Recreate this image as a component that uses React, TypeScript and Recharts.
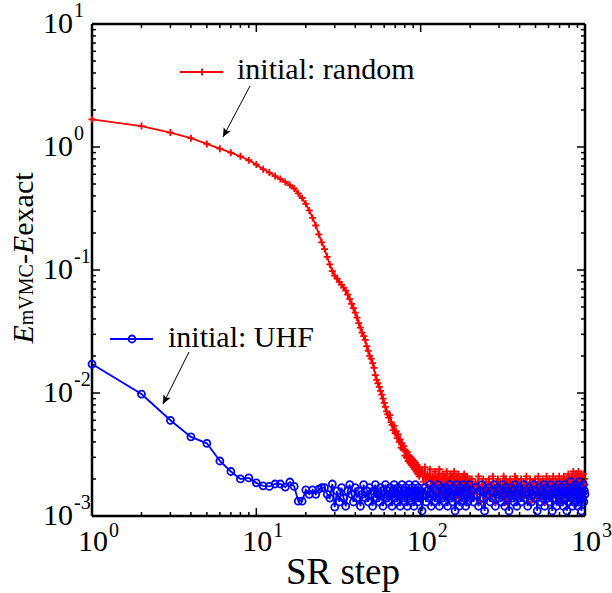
import { LineChart, Line, XAxis, YAxis } from 'recharts';

const SERIF = '"Liberation Serif", "Times New Roman", serif';

// SR steps that are drawn (every step up to 100, sampled after that)
const steps = [
  1, 2, 3, 4, 5, 6, 7, 8, 9, 10,
  11, 12, 13, 14, 15, 16, 17, 18, 19, 20,
  21, 22, 23, 24, 25, 26, 27, 28, 29, 30,
  31, 32, 33, 34, 35, 36, 37, 38, 39, 40,
  41, 42, 43, 44, 45, 46, 47, 48, 49, 50,
  51, 52, 53, 54, 55, 56, 57, 58, 59, 60,
  61, 62, 63, 64, 65, 66, 67, 68, 69, 70,
  71, 72, 73, 74, 75, 76, 77, 78, 79, 80,
  81, 82, 83, 84, 85, 86, 87, 88, 89, 90,
  91, 92, 93, 94, 95, 96, 97, 98, 99, 100,
  102, 104, 106, 108, 110, 112, 114, 116, 118, 120,
  122, 124, 126, 128, 130, 132, 134, 136, 138, 140,
  142, 144, 146, 148, 150, 152, 154, 156, 158, 160,
  162, 164, 166, 168, 170, 172, 174, 176, 178, 180,
  182, 184, 186, 188, 190, 192, 194, 196, 198, 200,
  205, 210, 215, 220, 225, 230, 235, 240, 245, 250,
  255, 260, 265, 270, 275, 280, 285, 290, 295, 300,
  305, 310, 315, 320, 325, 330, 335, 340, 345, 350,
  355, 360, 365, 370, 375, 380, 385, 390, 395, 400,
  408, 416, 424, 432, 440, 448, 456, 464, 472, 480,
  488, 496, 504, 512, 520, 528, 536, 544, 552, 560,
  568, 576, 584, 592, 600, 608, 616, 624, 632, 640,
  648, 656, 664, 672, 680, 688, 696, 704, 712, 720,
  728, 736, 744, 752, 760, 768, 776, 784, 792, 800,
  808, 816, 824, 832, 840, 848, 856, 864, 872, 880,
  888, 896, 904, 912, 920, 928, 936, 944, 952, 960,
  968, 976, 984, 992, 1000,
];

// initial: random
const randomErr = [
  1.68, 1.48, 1.31, 1.18, 1.06, 0.97, 0.9, 0.84, 0.78, 0.72,
  0.66, 0.62, 0.58, 0.55, 0.52, 0.49, 0.46, 0.42, 0.385, 0.345,
  0.305, 0.265, 0.23, 0.195, 0.168, 0.148, 0.128, 0.111, 0.098, 0.09,
  0.085, 0.08, 0.076, 0.072, 0.068, 0.063, 0.058, 0.053, 0.049, 0.045,
  0.041, 0.037, 0.034, 0.031, 0.029, 0.027, 0.024, 0.022, 0.02, 0.019,
  0.0175, 0.016, 0.014, 0.0128, 0.012, 0.0112, 0.0104, 0.0097, 0.009, 0.0083,
  0.0077, 0.0071, 0.0067, 0.0063, 0.0066, 0.0058, 0.0055, 0.005, 0.0054, 0.0047,
  0.0049, 0.0043, 0.0046, 0.004, 0.0042, 0.0036, 0.0039, 0.0035, 0.0037, 0.0031,
  0.0034, 0.003, 0.0033, 0.0028, 0.0031, 0.0027, 0.003, 0.0026, 0.0029, 0.0025,
  0.0028, 0.0024, 0.0027, 0.0023, 0.0026, 0.0022, 0.0025, 0.0021, 0.0024, 0.0022,
  0.0023, 0.0019, 0.0025, 0.0018, 0.0022, 0.002, 0.0024, 0.0017, 0.0021, 0.0019,
  0.0023, 0.0016, 0.0021, 0.0019, 0.0024, 0.0017, 0.002, 0.0022, 0.0015, 0.0021,
  0.0018, 0.0023, 0.0016, 0.002, 0.0019, 0.0022, 0.0015, 0.0021, 0.0017, 0.0023,
  0.0019, 0.0014, 0.0021, 0.0018, 0.0022, 0.0016, 0.002, 0.0019, 0.0014, 0.0021,
  0.0017, 0.0022, 0.0015, 0.002, 0.0018, 0.0021, 0.0014, 0.0019, 0.002, 0.0016,
  0.002, 0.0015, 0.0019, 0.0017, 0.0021, 0.0013, 0.0018, 0.002, 0.0016, 0.0019,
  0.0014, 0.002, 0.0018, 0.0015, 0.0021, 0.0017, 0.0013, 0.0019, 0.002, 0.0016,
  0.0019, 0.0014, 0.0018, 0.0021, 0.0016, 0.002, 0.0013, 0.0019, 0.0017, 0.002,
  0.0015, 0.0019, 0.0018, 0.0014, 0.0021, 0.0017, 0.002, 0.0015, 0.0019, 0.0018,
  0.002, 0.0014, 0.0019, 0.0017, 0.0021, 0.0015, 0.0018, 0.002, 0.0013, 0.0019,
  0.0016, 0.002, 0.0018, 0.0014, 0.0021, 0.0017, 0.0019, 0.0015, 0.002, 0.0018,
  0.0013, 0.0019, 0.0021, 0.0016, 0.0018, 0.002, 0.0014, 0.0019, 0.0017, 0.0021,
  0.0015, 0.0018, 0.002, 0.0016, 0.0019, 0.0013, 0.0021, 0.0017, 0.0019, 0.002,
  0.0014, 0.0018, 0.0021, 0.0016, 0.0019, 0.002, 0.0015, 0.0018, 0.0022, 0.0017,
  0.002, 0.0014, 0.0019, 0.0021, 0.0016, 0.0023, 0.0018, 0.002, 0.0015, 0.0022,
  0.0019, 0.0021, 0.0016, 0.0023, 0.0018, 0.002, 0.0014, 0.0022, 0.0019, 0.0021,
  0.0017, 0.0022, 0.0019, 0.002, 0.0018,
];

// initial: UHF
const uhfErr = [
  0.0172, 0.0098, 0.006, 0.0044, 0.0039, 0.0028, 0.0023, 0.002, 0.00204, 0.00186,
  0.00176, 0.00174, 0.00182, 0.00182, 0.00172, 0.00189, 0.00174, 0.00132, 0.00132, 0.00163,
  0.0015, 0.00163, 0.0015, 0.00165, 0.0017, 0.0017, 0.0015, 0.0014, 0.00182, 0.00118,
  0.0016, 0.0013, 0.0017, 0.0014, 0.0012, 0.0016, 0.0018, 0.0015, 0.0013, 0.0017,
  0.0014, 0.0016, 0.0012, 0.0015, 0.0018, 0.0014, 0.0016, 0.0013, 0.0017, 0.0015,
  0.0012, 0.0016, 0.0018, 0.0014, 0.0015, 0.0013, 0.0017, 0.0016, 0.0012, 0.0015,
  0.0018, 0.0014, 0.0016, 0.0013, 0.0017, 0.0015, 0.0012, 0.0016, 0.0018, 0.0014,
  0.0015, 0.0013, 0.0017, 0.0016, 0.0012, 0.0015, 0.0018, 0.0014, 0.0016, 0.0013,
  0.0017, 0.0015, 0.0012, 0.0016, 0.0018, 0.0014, 0.0015, 0.0013, 0.0017, 0.0016,
  0.0012, 0.0015, 0.0018, 0.0014, 0.0016, 0.0013, 0.0017, 0.0015, 0.0014, 0.0016,
  0.0011, 0.0015, 0.0017, 0.0013, 0.0016, 0.0014, 0.0018, 0.0012, 0.0015, 0.0017,
  0.0013, 0.0016, 0.0014, 0.0018, 0.0012, 0.0015, 0.0017, 0.0014, 0.0016, 0.0013,
  0.0017, 0.0015, 0.0012, 0.0016, 0.0018, 0.0014, 0.0015, 0.0013, 0.0017, 0.0016,
  0.0011, 0.0015, 0.0018, 0.0014, 0.0016, 0.0012, 0.0017, 0.0015, 0.0013, 0.0016,
  0.0018, 0.0014, 0.0015, 0.0012, 0.0017, 0.0016, 0.0013, 0.0015, 0.0018, 0.0014,
  0.0016, 0.0013, 0.0017, 0.0015, 0.0012, 0.0016, 0.0018, 0.0014, 0.0011, 0.0016,
  0.0015, 0.0017, 0.0013, 0.0016, 0.0014, 0.0018, 0.0012, 0.0015, 0.0017, 0.0014,
  0.0016, 0.0013, 0.0018, 0.0015, 0.0012, 0.0017, 0.0014, 0.0016, 0.0011, 0.0015,
  0.0017, 0.0014, 0.0016, 0.0013, 0.0018, 0.0015, 0.0012, 0.0016, 0.0014, 0.0017,
  0.0013, 0.0016, 0.0018, 0.0014, 0.0015, 0.0012, 0.0017, 0.0016, 0.0013, 0.0015,
  0.0018, 0.0014, 0.0016, 0.0011, 0.0015, 0.0017, 0.0013, 0.0016, 0.0014, 0.0018,
  0.0012, 0.0015, 0.0017, 0.0014, 0.0016, 0.0013, 0.0018, 0.0015, 0.0011, 0.0016,
  0.0014, 0.0017, 0.0015, 0.0012, 0.0016, 0.0018, 0.0014, 0.0015, 0.0013, 0.0017,
  0.0016, 0.0012, 0.0015, 0.0018, 0.0014, 0.0016, 0.0011, 0.0017, 0.0015, 0.0013,
  0.0016, 0.0019, 0.0014, 0.0015, 0.0012, 0.0017, 0.0016, 0.0013, 0.0018, 0.0015,
  0.0014, 0.0017, 0.0012, 0.0016, 0.0019, 0.0013, 0.0015, 0.0017, 0.0011, 0.0016,
  0.0014, 0.0018, 0.0013, 0.0016, 0.0015,
];

const xTicks = [
  1, 2, 3, 4, 5, 6, 7, 8, 9, 10, 20, 30, 40, 50, 60, 70, 80, 90,
  100, 200, 300, 400, 500, 600, 700, 800, 900, 1000,
];
const yTicks = [
  0.001, 0.002, 0.003, 0.004, 0.005, 0.006, 0.007, 0.008, 0.009,
  0.01, 0.02, 0.03, 0.04, 0.05, 0.06, 0.07, 0.08, 0.09,
  0.1, 0.2, 0.3, 0.4, 0.5, 0.6, 0.7, 0.8, 0.9,
  1, 2, 3, 4, 5, 6, 7, 8, 9, 10,
];

const data = steps.map((step, i) => ({ step, random: randomErr[i], uhf: uhfErr[i] }));

const isDecade = (v: number) => {
  const l = Math.log10(v);
  return Math.abs(l - Math.round(l)) < 1e-6;
};
const expOf = (v: number) => String(Math.round(Math.log10(v)));

const BottomTick = (props: any) => {
  const { x, y, payload } = props;
  const major = isDecade(payload.value);
  return (
    <g>
      <line x1={x} x2={x} y1={y} y2={y - (major ? 8 : 4)} stroke="#000" strokeWidth={1.5} />
      {major && (
        <>
          <text x={x + 1} y={y + 35} textAnchor="middle" fontSize={30} fontFamily={SERIF} fill="#000">10</text>
          <text x={x + 17} y={y + 21} fontSize={20} fontFamily={SERIF} fill="#000">{expOf(payload.value)}</text>
        </>
      )}
    </g>
  );
};

const TopTick = (props: any) => {
  const { x, y, payload } = props;
  const major = isDecade(payload.value);
  return <line x1={x} x2={x} y1={y} y2={y + (major ? 8 : 4)} stroke="#000" strokeWidth={1.5} />;
};

const LeftTick = (props: any) => {
  const { x, y, payload } = props;
  const major = isDecade(payload.value);
  return (
    <g>
      <line x1={x} x2={x + (major ? 8 : 4)} y1={y} y2={y} stroke="#000" strokeWidth={1.5} />
      {major && (
        <>
          <text x={x - 19} y={y + 9} textAnchor="end" fontSize={30} fontFamily={SERIF} fill="#000">10</text>
          <text x={x - 18} y={y - 7} fontSize={20} fontFamily={SERIF} fill="#000">{expOf(payload.value)}</text>
        </>
      )}
    </g>
  );
};

const RightTick = (props: any) => {
  const { x, y, payload } = props;
  const major = isDecade(payload.value);
  return <line x1={x} x2={x - (major ? 8 : 4)} y1={y} y2={y} stroke="#000" strokeWidth={1.5} />;
};

const PlusDot = (props: any) => {
  const { cx, cy, index } = props;
  if (cx == null || cy == null) return <g key={`p${index}`} />;
  return (
    <path key={`p${index}`} d={`M${cx - 3.5},${cy}h7M${cx},${cy - 3.5}v7`} stroke="#ff0000" strokeWidth={1.8} fill="none" />
  );
};

const frame = { stroke: '#000', strokeWidth: 2.5 };

export default function App() {
  return (
    <div style={{ position: 'absolute', left: 0, top: 0, width: 612, height: 593, background: '#fff' }}>
      <LineChart width={612} height={593} data={data} margin={{ top: 23, right: 26, bottom: 76, left: 91 }}>
        <XAxis dataKey="step" type="number" scale="log" domain={[1, 1000]} ticks={xTicks} interval={0}
          height={1} tickSize={0} tickMargin={0} tickLine={false} axisLine={frame} tick={<BottomTick />} />
        <XAxis xAxisId="top" dataKey="step" orientation="top" type="number" scale="log" domain={[1, 1000]} allowDataOverflow
          ticks={xTicks} interval={0} height={1} tickSize={0} tickMargin={0} tickLine={false} axisLine={frame} tick={<TopTick />} />
        <YAxis type="number" scale="log" domain={[0.001, 10]} ticks={yTicks} interval={0}
          width={1} tickSize={0} tickMargin={0} tickLine={false} axisLine={frame} tick={<LeftTick />} />
        <YAxis yAxisId="right" orientation="right" type="number" scale="log" domain={[0.001, 10]} allowDataOverflow
          ticks={yTicks} interval={0} width={1} tickSize={0} tickMargin={0} tickLine={false} axisLine={frame} tick={<RightTick />} />
        <Line dataKey="random" stroke="#ff0000" strokeWidth={1.8} dot={PlusDot} isAnimationActive={false} />
        <Line dataKey="uhf" stroke="#0000ff" strokeWidth={1.8}
          dot={{ r: 3.5, stroke: '#0000ff', strokeWidth: 1.8, fill: 'none' }} isAnimationActive={false} />
      </LineChart>
      <svg width={612} height={593} style={{ position: 'absolute', left: 0, top: 0, pointerEvents: 'none' }}>
        <defs>
          <marker id="arrowHead" markerWidth="10" markerHeight="10" refX="9" refY="5" orient="auto" markerUnits="userSpaceOnUse">
            <path d="M0,1 L9,5 L0,9 L2,5 z" fill="#000" />
          </marker>
        </defs>
        {/* legend: random */}
        <line x1={180} x2={223} y1={72} y2={72} stroke="#ff0000" strokeWidth={1.8} />
        <path d="M198.5,72h7M202,68.5v7" stroke="#ff0000" strokeWidth={1.8} />
        <text x={237} y={79} fontSize={30} fontFamily={SERIF} fill="#000">initial: random</text>
        <line x1={250} y1={86} x2={223} y2={137} stroke="#000" strokeWidth={1} markerEnd="url(#arrowHead)" />
        {/* legend: UHF */}
        <line x1={110} x2={153} y1={339} y2={339} stroke="#0000ff" strokeWidth={1.8} />
        <circle cx={132} cy={339} r={3.5} stroke="#0000ff" strokeWidth={1.8} fill="none" />
        <text x={168} y={347} fontSize={30} fontFamily={SERIF} fill="#000">initial: UHF</text>
        <line x1={189} y1={352} x2={163} y2={404} stroke="#000" strokeWidth={1} markerEnd="url(#arrowHead)" />
        {/* axis titles */}
        <text x={343} y={584} textAnchor="middle" fontSize={37} fontFamily={SERIF} fill="#000">SR step</text>
        <text transform="translate(33,258) rotate(-90)" textAnchor="middle" fontSize={30} fontFamily={SERIF} fill="#000">
          <tspan fontStyle="italic">E</tspan>
          <tspan fontSize={20}>mVMC</tspan>
          <tspan>-</tspan>
          <tspan fontStyle="italic">E</tspan>
          <tspan>exact</tspan>
        </text>
      </svg>
    </div>
  );
}
